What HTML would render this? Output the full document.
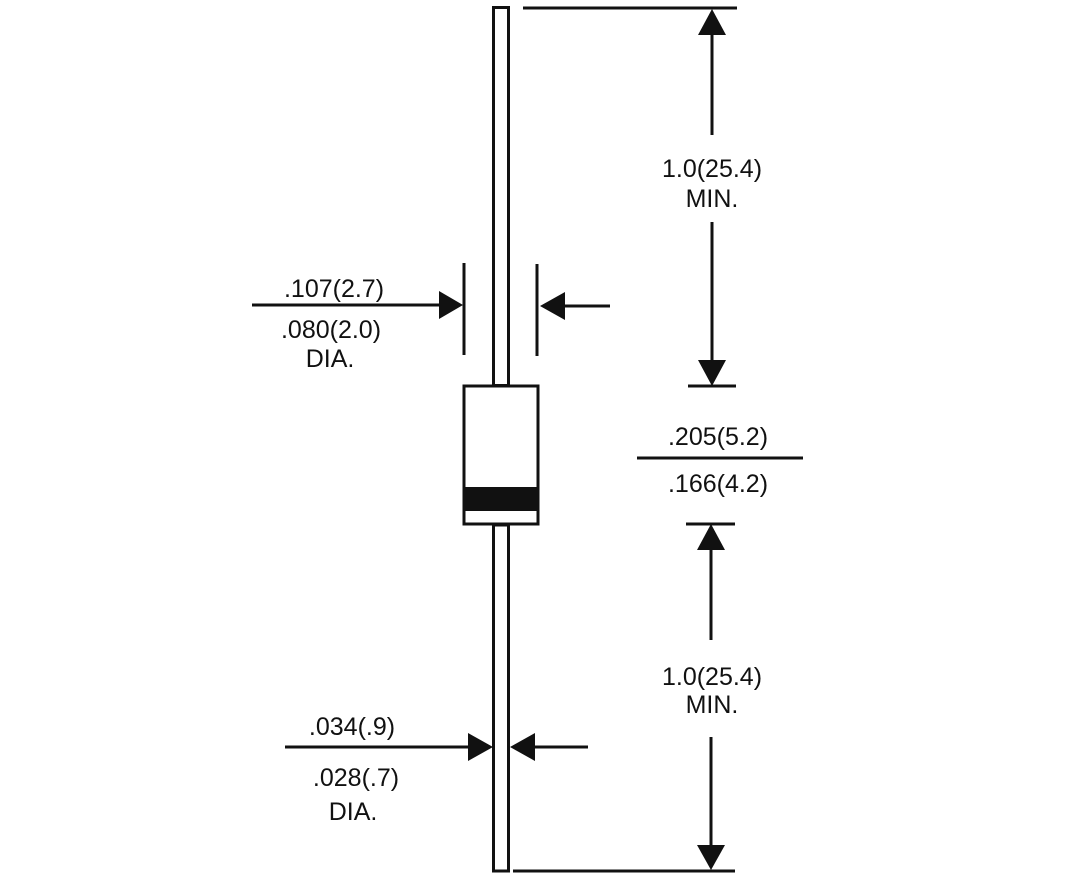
<!DOCTYPE html>
<html><head><style>body{margin:0;background:#fff}svg{display:block}text{font-family:"Liberation Sans",Arial,sans-serif;font-size:25px;fill:#111}</style></head>
<body>
<svg width="1066" height="878" viewBox="0 0 1066 878" xmlns="http://www.w3.org/2000/svg">
<g stroke="#111" stroke-width="3" fill="none">
<rect x="493.5" y="7.5" width="15" height="378"/>
<rect x="464" y="386" width="74" height="138" fill="#fff"/>
<rect x="493.5" y="525" width="15" height="346"/>
<line x1="523" y1="8" x2="737" y2="8"/>
<line x1="513" y1="871" x2="735" y2="871"/>
<line x1="688" y1="386" x2="736" y2="386"/>
<line x1="686" y1="524" x2="735" y2="524"/>
<line x1="637" y1="458" x2="803" y2="458"/>
<line x1="712" y1="30" x2="712" y2="135"/>
<line x1="712" y1="222" x2="712" y2="362"/>
<line x1="711" y1="548" x2="711" y2="640"/>
<line x1="711" y1="737" x2="711" y2="848"/>
<line x1="464" y1="263" x2="464" y2="355"/>
<line x1="537" y1="264" x2="537" y2="356"/>
<line x1="252" y1="305" x2="442" y2="305"/>
<line x1="562" y1="306" x2="610" y2="306"/>
<line x1="285" y1="747" x2="470" y2="747"/>
<line x1="533" y1="747" x2="588" y2="747"/>
</g>
<rect x="464" y="487" width="74" height="24" fill="#111"/>
<g fill="#111">
<polygon points="712,9 698,35 726,35"/>
<polygon points="712,386 698,360 726,360"/>
<polygon points="711,524 697,550 725,550"/>
<polygon points="711,870 697,845 725,845"/>
<polygon points="463,305 439,291 439,319"/>
<polygon points="540,306 565,292 565,320"/>
<polygon points="493,747 468,733 468,761"/>
<polygon points="510,747 535,733 535,761"/>
</g>
<g text-anchor="middle">
<text x="712" y="177">1.0(25.4)</text>
<text x="712" y="207">MIN.</text>
<text x="712" y="685">1.0(25.4)</text>
<text x="712" y="713">MIN.</text>
<text x="718" y="445">.205(5.2)</text>
<text x="718" y="492">.166(4.2)</text>
<text x="334" y="297">.107(2.7)</text>
<text x="331" y="338">.080(2.0)</text>
<text x="330" y="367">DIA.</text>
<text x="352" y="735">.034(.9)</text>
<text x="356" y="786">.028(.7)</text>
<text x="353" y="820">DIA.</text>
</g>
</svg>
</body></html>
